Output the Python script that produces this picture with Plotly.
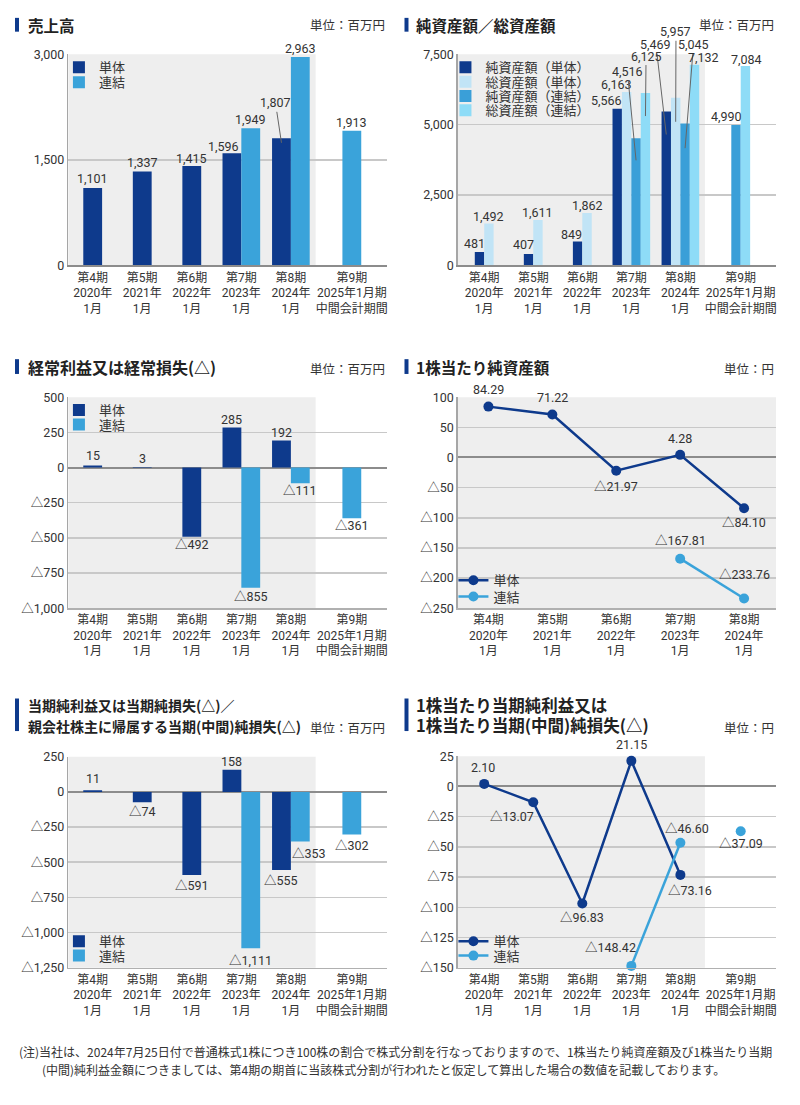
import plotly.graph_objects as go

# ---------------- data ----------------
periods6 = ["第4期<br>2020年<br>1月", "第5期<br>2021年<br>1月", "第6期<br>2022年<br>1月",
            "第7期<br>2023年<br>1月", "第8期<br>2024年<br>1月", "第9期<br>2025年1月期<br>中間会計期間"]
periods5 = periods6[:5]

sales_tan = [1101, 1337, 1415, 1596, 1807, None]
sales_ren = [None, None, None, 1949, 2963, 1913]

net_assets_tan = [481, 407, 849, 5566, 5469, None]
total_assets_tan = [1492, 1611, 1862, 6163, 5957, None]
net_assets_ren = [None, None, None, 4516, 5045, 4990]
total_assets_ren = [None, None, None, 6125, 7132, 7084]

ord_tan = [15, 3, -492, 285, 192, None]
ord_ren = [None, None, None, -855, -111, -361]

bps_tan = [84.29, 71.22, -21.97, 4.28, -84.10]
bps_ren = [None, None, None, -167.81, -233.76]

ni_tan = [11, -74, -591, 158, -555, None]
ni_ren = [None, None, None, -1111, -353, -302]

eps_tan = [2.10, -13.07, -96.83, 21.15, -73.16, None]
eps_ren = [None, None, None, -148.42, -46.60, -37.09]

sales_ticks = [0, 1500, 3000]
assets_ticks = [0, 2500, 5000, 7500]
ord_ticks = [500, 250, 0, -250, -500, -750, -1000]
bps_ticks = [100, 50, 0, -50, -100, -150, -200, -250]
ni_ticks = [250, 0, -250, -500, -750, -1000, -1250]
eps_ticks = [25, 0, -25, -50, -75, -100, -125, -150]

# ---------------- layout helpers ----------------
W, H = 800, 1105
def fx(px): return px / W
def fy(py): return 1 - py / H

DARK = "#0e3a8c"
LIGHT = "#3aa3da"
PALE = "#c1e4f6"
MID = "#3a9fd8"
CYAN = "#8edcf7"
GRAYBG = "#eeeeee"
TXT = "#333333"
NUMFONT = "Roboto, 'Noto Sans CJK JP', sans-serif"
JPFONT = "'Noto Sans CJK JP', sans-serif"

pos6 = [0, 1, 2, 3, 4, 5.23]
pos5 = [0, 1, 2, 3, 4]

def tri(v, dec=0):
    s = f"{abs(v):,.{dec}f}"
    return ("△" + s) if v < 0 else s

def group_offsets(series_list, width):
    n = len(series_list[0])
    offs = [[0.0] * n for _ in series_list]
    for i in range(n):
        present = [k for k, s in enumerate(series_list) if s[i] is not None]
        m = len(present)
        for j, k in enumerate(present):
            offs[k][i] = (j - m / 2) * width
    return offs

fig = go.Figure()
annotations = []
shapes = []
legends = {}

def new_legend(sym_x, cy):
    lid = "legend" if not legends else f"legend{len(legends) + 1}"
    legends[lid] = dict(x=fx(sym_x - 20), y=fy(cy - 15), xanchor="left", yanchor="top",
                        bgcolor="rgba(0,0,0,0)", font=dict(family=JPFONT, size=13, color=TXT),
                        tracegroupgap=0, itemwidth=30)
    return lid

def axnames(idx):
    return ("x" if idx == 1 else f"x{idx}"), ("y" if idx == 1 else f"y{idx}")

def label(idx, x, y, text, dx=0, dy=0, leader=None):
    xr, yr = axnames(idx)
    if leader is None:
        annotations.append(dict(x=x, y=y, xref=xr, yref=yr, text=text, showarrow=False,
                                xanchor="center", yanchor="middle", xshift=dx, yshift=-dy,
                                font=dict(family=NUMFONT, size=12.5, color=TXT)))
    else:
        ax, ay, ext = leader
        annotations.append(dict(x=x, y=y, xref=xr, yref=yr, text=text, showarrow=True,
                                arrowhead=0, arrowwidth=1, arrowcolor="#666666", standoff=0,
                                ax=ax, ay=ay, yshift=-ext,
                                font=dict(family=NUMFONT, size=12.5, color=TXT)))

def bar_panel(idx, series, names, colors, width, leg_slots, styles):
    xr, yr = axnames(idx)
    offs = group_offsets(series, width)
    for k, (s, nm, c) in enumerate(zip(series, names, colors)):
        lid = new_legend(*leg_slots[k])
        fig.add_trace(go.Bar(x=pos6, y=s, offset=offs[k], width=width, name=nm,
                             marker=dict(color=c, line=dict(width=0)),
                             xaxis=xr, yaxis=yr, legend=lid, cliponaxis=False))
    for k, s in enumerate(series):
        for i, v in enumerate(s):
            if v is None:
                continue
            bx = pos6[i] + offs[k][i] + width / 2
            st = styles.get((k, i), {})
            dflt = -8.5 if v >= 0 else 9
            label(idx, bx, v, tri(v), st.get("dx", 0), st.get("dy", dflt), st.get("leader"))

def line_panel(idx, pos, series, names, colors, leg_slots, styles, annual_n):
    xr, yr = axnames(idx)
    for k, (s, nm, c) in enumerate(zip(series, names, colors)):
        lid = new_legend(*leg_slots[k])
        fig.add_trace(go.Scatter(x=pos[:annual_n], y=s[:annual_n], mode="lines+markers", name=nm,
                                 line=dict(color=c, width=2.5), marker=dict(color=c, size=10),
                                 connectgaps=False, xaxis=xr, yaxis=yr, legend=lid,
                                 cliponaxis=False))
        if len(s) > annual_n and any(v is not None for v in s[annual_n:]):
            fig.add_trace(go.Scatter(x=pos[annual_n:], y=s[annual_n:], mode="markers", name=nm,
                                     marker=dict(color=c, size=10), showlegend=False,
                                     xaxis=xr, yaxis=yr, legend=lid, cliponaxis=False))
    for k, s in enumerate(series):
        for i, v in enumerate(s):
            if v is None:
                continue
            st = styles.get((k, i), {})
            label(idx, pos[i], v, tri(v, 2), st.get("dx", 0), st.get("dy", -16))

# ---- Panel 1: 売上高 ----
bar_panel(1, [sales_tan, sales_ren], ["単体", "連結"], [DARK, LIGHT], 0.38,
          [(79, 60), (79, 75)],
          {(0, 0): dict(dy=-9.5), (0, 2): dict(dy=-7.5), (0, 3): dict(dx=-8, dy=-7),
           (0, 4): dict(leader=(-6, -40, 4.5)), (1, 1): dict(dy=-8)})

# ---- Panel 2: 純資産額／総資産額 ----
bar_panel(2, [net_assets_tan, total_assets_tan, net_assets_ren, total_assets_ren],
          ["純資産額（単体）", "総資産額（単体）", "純資産額（連結）", "総資産額（連結）"],
          [DARK, PALE, MID, CYAN], 0.192,
          [(466, 60), (466, 74.5), (466, 89), (466, 103.5)],
          {(0, 0): dict(dx=-5, dy=-8.3), (0, 1): dict(dx=-5.4, dy=-9.4), (0, 2): dict(dx=-6, dy=-6.8),
           (1, 0): dict(dy=-7.4), (1, 1): dict(dy=-7.3), (1, 2): dict(dy=-8),
           (0, 3): dict(dx=-11, dy=-8), (1, 3): dict(dx=-10.6, dy=-7),
           (2, 3): dict(leader=(-8.7, -89, 22)), (3, 3): dict(leader=(0.6, -60, 23)),
           (0, 4): dict(leader=(-10.3, -89.7, 23)), (1, 4): dict(leader=(0.3, -90, 24)),
           (2, 4): dict(leader=(8.5, -104, 24.7)), (3, 4): dict(dx=9, dy=-7.5),
           (2, 5): dict(dx=-9.6, dy=-8.6), (3, 5): dict(dx=1.5, dy=-6.6)})

# ---- Panel 3: 経常利益 ----
bar_panel(3, [ord_tan, ord_ren], ["単体", "連結"], [DARK, LIGHT], 0.38,
          [(79, 407.5), (79, 422)],
          {(0, 0): dict(dy=-9.6), (0, 1): dict(dy=-9), (0, 2): dict(dy=7.8), (0, 3): dict(dy=-8),
           (1, 3): dict(dy=8.7), (0, 4): dict(dy=-8), (1, 4): dict(dy=7.5), (1, 5): dict(dy=7.5)})

# ---- Panel 4: 1株当たり純資産額 ----
line_panel(4, pos5, [bps_tan, bps_ren], ["単体", "連結"], [DARK, LIGHT],
           [(474, 580), (474, 596.5)],
           {(0, 0): dict(dy=-17.3), (0, 1): dict(dy=-17), (0, 2): dict(dy=15.8), (0, 3): dict(dy=-16.3),
            (0, 4): dict(dy=14.5), (1, 3): dict(dy=-18.6), (1, 4): dict(dy=-24)}, 5)

# ---- Panel 5: 当期純利益 ----
bar_panel(5, [ni_tan, ni_ren], ["単体", "連結"], [DARK, LIGHT], 0.38,
          [(79, 946), (79, 960.5)],
          {(0, 0): dict(dy=-11.7), (0, 1): dict(dy=9.6), (0, 2): dict(dy=10), (0, 3): dict(dy=-8),
           (1, 3): dict(dy=12), (0, 4): dict(dy=11), (1, 4): dict(dx=8.4, dy=11.6), (1, 5): dict(dy=11)})

# ---- Panel 6: 1株当たり当期純利益 ----
line_panel(6, pos6, [eps_tan, eps_ren], ["単体", "連結"], [DARK, LIGHT],
           [(474, 946), (474, 960.5)],
           {(0, 0): dict(dx=-1, dy=-16.4), (0, 1): dict(dx=-21, dy=14.3), (0, 2): dict(dy=13.9),
            (0, 3): dict(dy=-16.3), (0, 4): dict(dx=9.4, dy=15.2), (1, 3): dict(dx=-21, dy=-18.3),
            (1, 4): dict(dx=6.5, dy=-14.5), (1, 5): dict(dy=12.2)}, 5)

# ---------------- axes ----------------
panels = {
    1: dict(xd=(68.3, 387), yd=(47, 261), xr=(-0.494, 5.93), yr=(0, 3000), ticks=sales_ticks, cats=periods6, pos=pos6, gray=4.5, zero=False),
    2: dict(xd=(458.3, 777), yd=(47, 261), xr=(-0.54, 5.95), yr=(0, 7500), ticks=assets_ticks, cats=periods6, pos=pos6, gray=4.5, zero=False),
    3: dict(xd=(68.3, 387), yd=(394.5, 608.5), xr=(-0.494, 5.93), yr=(-1000, 500), ticks=ord_ticks, cats=periods6, pos=pos6, gray=4.5, zero=True),
    4: dict(xd=(458.3, 777), yd=(394.5, 608.5), xr=(-0.48, 4.5), yr=(-250, 100), ticks=bps_ticks, cats=periods5, pos=pos5, gray=None, zero=True),
    5: dict(xd=(68.3, 387), yd=(759, 973), xr=(-0.494, 5.93), yr=(-1250, 250), ticks=ni_ticks, cats=periods6, pos=pos6, gray=4.5, zero=True),
    6: dict(xd=(458.3, 777), yd=(758.5, 973), xr=(-0.54, 5.95), yr=(-150, 25), ticks=eps_ticks, cats=periods6, pos=pos6, gray=4.5, zero=True),
}

layout_axes = {}
for idx, p in panels.items():
    xr, yr = axnames(idx)
    xkey = "xaxis" if idx == 1 else f"xaxis{idx}"
    ykey = "yaxis" if idx == 1 else f"yaxis{idx}"
    layout_axes[xkey] = dict(domain=[fx(p["xd"][0]), fx(p["xd"][1])], range=list(p["xr"]),
                             anchor=yr, tickvals=p["pos"], ticktext=p["cats"], showgrid=False,
                             zeroline=False, showline=True,
                             linecolor="#8c8c8c" if not p["zero"] else "#b0b0b0",
                             linewidth=2 if not p["zero"] else 1.5, ticks="",
                             tickfont=dict(family=NUMFONT, size=12, color=TXT), fixedrange=True)
    layout_axes[ykey] = dict(domain=[fy(p["yd"][1]), fy(p["yd"][0])], range=list(p["yr"]),
                             anchor=xr, tickvals=p["ticks"], ticktext=[tri(v) for v in p["ticks"]],
                             showgrid=True, gridcolor="#c8c8c8", gridwidth=1.5,
                             zeroline=p["zero"], zerolinecolor="#8c8c8c", zerolinewidth=2,
                             showline=True, linecolor="#a6a6a6", linewidth=1.5, ticks="",
                             tickfont=dict(family=NUMFONT, size=12.5, color=TXT), fixedrange=True)
    if p["gray"] is not None:
        shapes.append(dict(type="rect", xref=xr, yref=f"{yr} domain", x0=p["xr"][0], x1=p["gray"],
                           y0=0, y1=1, fillcolor=GRAYBG, line=dict(width=0), layer="below"))
    else:
        shapes.append(dict(type="rect", xref=f"{xr} domain", yref=f"{yr} domain", x0=0, x1=1,
                           y0=0, y1=1, fillcolor=GRAYBG, line=dict(width=0), layer="below"))

# ---------------- titles / units ----------------
def title(x_bar, x_text, lines, y_lines, bar_y, size):
    shapes.append(dict(type="rect", xref="paper", yref="paper", x0=fx(x_bar), x1=fx(x_bar + 4),
                       y0=fy(bar_y[1]), y1=fy(bar_y[0]), fillcolor=DARK, line=dict(width=0)))
    for t, yy in zip(lines, y_lines):
        annotations.append(dict(xref="paper", yref="paper", x=fx(x_text), y=fy(yy), text=f"<b>{t}</b>",
                                showarrow=False, xanchor="left", yanchor="middle",
                                font=dict(family=JPFONT, size=size, color="#222222")))

def unit(x_right, yy, text):
    annotations.append(dict(xref="paper", yref="paper", x=fx(x_right), y=fy(yy), text=text,
                            showarrow=False, xanchor="right", yanchor="middle",
                            font=dict(family=JPFONT, size=12.5, color=TXT)))

title(15, 26, ["売上高"], [17], (10, 24), 15.5)
title(405, 415, ["純資産額／総資産額"], [17], (10, 24), 15.5)
title(15, 26, ["経常利益又は経常損失(△)"], [364], (356, 371), 16)
title(405, 415, ["1株当たり純資産額"], [364], (356, 371), 15.5)
title(15, 26, ["当期純利益又は当期純損失(△)／", "親会社株主に帰属する当期(中間)純損失(△)"], [707, 728], (700, 733), 14)
title(405, 415, ["1株当たり当期純利益又は", "1株当たり当期(中間)純損失(△)"], [707, 727], (700, 733), 16.5)

unit(387, 17, "単位：百万円")
unit(777, 17, "単位：百万円")
unit(387, 365, "単位：百万円")
unit(777, 365, "単位：円")
unit(387, 729, "単位：百万円")
unit(777, 729, "単位：円")

notes = ["(注)当社は、2024年7月25日付で普通株式1株につき100株の割合で株式分割を行なっておりますので、1株当たり純資産額及び1株当たり当期",
         "(中間)純利益金額につきましては、第4期の期首に当該株式分割が行われたと仮定して算出した場合の数値を記載しております。"]
for t, xx, yy in zip(notes, [17, 40], [1058, 1076]):
    annotations.append(dict(xref="paper", yref="paper", x=fx(xx), y=fy(yy), text=t, showarrow=False,
                            xanchor="left", yanchor="middle",
                            font=dict(family=JPFONT, size=12, color=TXT)))

fig.update_layout(
    width=W, height=H, autosize=False, margin=dict(l=0, r=0, t=0, b=0),
    paper_bgcolor="white", plot_bgcolor="rgba(0,0,0,0)", barmode="overlay",
    showlegend=True, annotations=annotations, shapes=shapes, **legends, **layout_axes)

pin_script = (
    "document.documentElement.style.margin='0px';"
    "document.body.style.margin='0px';document.body.style.overflow='hidden';"
    "var gd=document.getElementById('{plot_id}');"
    "gd.style.position='fixed';gd.style.left='0px';gd.style.top='0px';"
)
fig.write_html("out.html", config={"displayModeBar": False, "staticPlot": True},
               post_script=pin_script)
